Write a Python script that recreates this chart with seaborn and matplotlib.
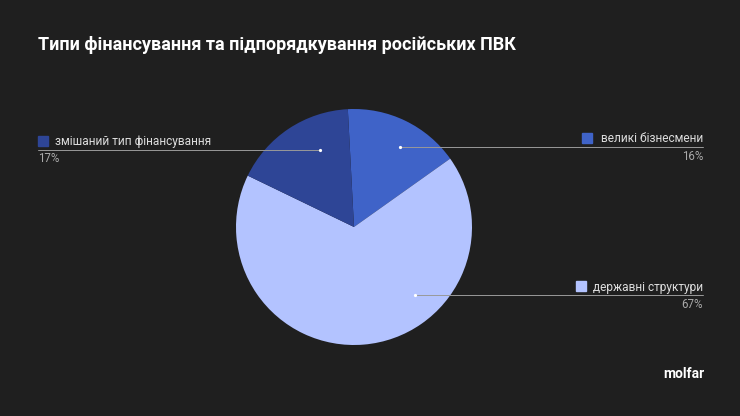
import matplotlib
matplotlib.use("Agg")
import matplotlib.pyplot as plt
import seaborn as sns
import numpy as np

labels = ["великі бізнесмени", "державні структури", "змішаний тип фінансування"]
values = [16, 67, 17]
pct_labels = ["16%", "67%", "17%"]
colors = ["#3f63c8", "#b3c3ff", "#2e4596"]

sns.set_theme(style="dark")
plt.rcParams['font.family'] = ['Roboto', 'DejaVu Sans']
bg = "#1f1f1f"
fig = plt.figure(figsize=(7.4, 4.16), dpi=100, facecolor=bg)
W, H = 740, 416
r = 118; cx = 354; cy = 227
ax = fig.add_axes([(cx - r) / W, 1 - (cy + r) / H, 2 * r / W, 2 * r / H])
ax.set_facecolor(bg)
ax.pie(values, colors=colors, startangle=93, counterclock=False,
       wedgeprops=dict(linewidth=0), radius=1)
ax.set_xlim(-1, 1); ax.set_ylim(-1, 1)
ax.set_aspect('equal')
ax.axis('off')

ov = fig.add_axes([0, 0, 1, 1], facecolor="none")
ov.set_xlim(0, W); ov.set_ylim(H, 0); ov.axis('off')
txt = "#dddddd"; grey = "#aaaaaa"
ov.text(38, 45, "Типи фінансування та підпорядкування російських ПВК", color="white",
        fontsize=13, fontweight="bold", va="center")
ov.plot([400, 703], [147, 147], color="#999999", lw=0.7)
ov.plot([400], [147], 'o', color="white", ms=1.3)
ov.text(703, 139, "великі бізнесмени", color=txt, fontsize=8.6, ha="right", va="center")
ov.add_patch(plt.Rectangle((582, 133), 10, 10, color=colors[0]))
ov.text(703, 157, pct_labels[0], color=grey, fontsize=8.3, ha="right", va="center")
ov.plot([415, 703], [295, 295], color="#999999", lw=0.7)
ov.plot([415], [295], 'o', color="white", ms=1.3)
ov.text(703, 287, "державні структури", color=txt, fontsize=8.6, ha="right", va="center")
ov.add_patch(plt.Rectangle((576, 281), 10, 10, color=colors[1]))
ov.text(703, 305, pct_labels[1], color=grey, fontsize=8.3, ha="right", va="center")
ov.plot([38, 320], [150, 150], color="#999999", lw=0.7)
ov.plot([320], [150], 'o', color="white", ms=1.3)
ov.add_patch(plt.Rectangle((38, 136), 10, 10, color=colors[2]))
ov.text(55, 141, "змішаний тип фінансування", color=txt, fontsize=8.6, ha="left", va="center")
ov.text(38, 159, pct_labels[2], color=grey, fontsize=8.3, ha="left", va="center")
ov.text(704, 374, "molfar", color="white", fontsize=10, fontweight="bold", ha="right", va="center")

fig.savefig("out.png", dpi=100, facecolor=bg)
